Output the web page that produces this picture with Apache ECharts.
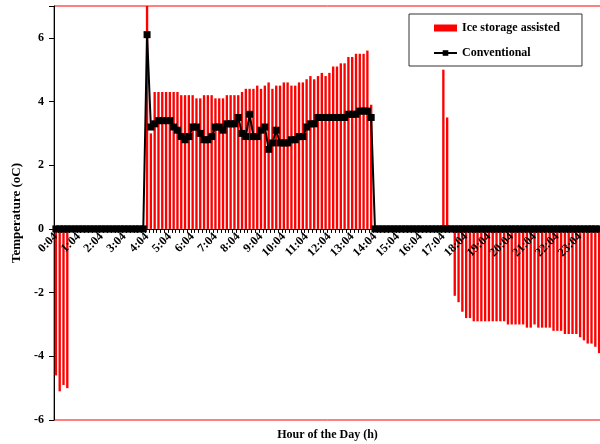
<!DOCTYPE html>
<html>
<head>
<meta charset="utf-8">
<script src="https://cdn.jsdelivr.net/npm/echarts@6/dist/echarts.min.js"></script>
<style>
  html, body { margin: 0; padding: 0; background: #ffffff; }
  #chart { width: 600px; height: 444px; }
</style>
</head>
<body>
<div id="chart"></div>
<script>
// Hour labels shown on the axis; each hour holds six 10-minute readings
var hourLabels = ['0:04','1:04','2:04','3:04','4:04','5:04','6:04','7:04','8:04','9:04','10:04','11:04',
                  '12:04','13:04','14:04','15:04','16:04','17:04','18:04','19:04','20:04','21:04','22:04','23:04'];
var minuteSteps = ['04','14','24','34','44','54'];

// Temperature (oC) with the ice storage system, one value per 10 minutes
var iceStorage = [
  -4.6, -5.1, -4.9, -5.0, 0, 0,
  0, 0, 0, 0, 0, 0,
  0, 0, 0, 0, 0, 0,
  0, 0, 0, 0, 0, 0,
  7.5, 3.0, 4.3, 4.3, 4.3, 4.3,
  4.3, 4.3, 4.3, 4.2, 4.2, 4.2,
  4.2, 4.1, 4.1, 4.2, 4.2, 4.2,
  4.1, 4.1, 4.1, 4.2, 4.2, 4.2,
  4.2, 4.3, 4.4, 4.4, 4.4, 4.5,
  4.4, 4.5, 4.6, 4.4, 4.5, 4.5,
  4.6, 4.6, 4.5, 4.5, 4.6, 4.6,
  4.7, 4.8, 4.7, 4.8, 4.9, 4.8,
  4.9, 5.1, 5.1, 5.2, 5.2, 5.4,
  5.4, 5.5, 5.5, 5.5, 5.6, 3.9,
  0, 0, 0, 0, 0, 0,
  0, 0, 0, 0, 0, 0,
  0, 0, 0, 0, 0, 0,
  5.0, 3.5, 0, -2.1, -2.3, -2.6,
  -2.8, -2.8, -2.9, -2.9, -2.9, -2.9,
  -2.9, -2.9, -2.9, -2.9, -2.9, -3.0,
  -3.0, -3.0, -3.0, -3.0, -3.1, -3.1,
  -3.0, -3.1, -3.1, -3.1, -3.1, -3.2,
  -3.2, -3.2, -3.3, -3.3, -3.3, -3.3,
  -3.4, -3.5, -3.6, -3.6, -3.7, -3.9
];

// Temperature (oC) with the conventional system
var conventional = [
  0, 0, 0, 0, 0, 0,
  0, 0, 0, 0, 0, 0,
  0, 0, 0, 0, 0, 0,
  0, 0, 0, 0, 0, 0,
  6.1, 3.2, 3.3, 3.4, 3.4, 3.4,
  3.4, 3.2, 3.1, 2.9, 2.8, 2.9,
  3.2, 3.2, 3.0, 2.8, 2.8, 2.9,
  3.2, 3.2, 3.1, 3.3, 3.3, 3.3,
  3.5, 3.0, 2.9, 3.6, 2.9, 2.9,
  3.1, 3.2, 2.5, 2.7, 3.1, 2.7,
  2.7, 2.7, 2.8, 2.8, 2.9, 2.9,
  3.2, 3.3, 3.3, 3.5, 3.5, 3.5,
  3.5, 3.5, 3.5, 3.5, 3.5, 3.6,
  3.6, 3.6, 3.7, 3.7, 3.7, 3.5,
  0, 0, 0, 0, 0, 0,
  0, 0, 0, 0, 0, 0,
  0, 0, 0, 0, 0, 0,
  0, 0, 0, 0, 0, 0,
  0, 0, 0, 0, 0, 0,
  0, 0, 0, 0, 0, 0,
  0, 0, 0, 0, 0, 0,
  0, 0, 0, 0, 0, 0,
  0, 0, 0, 0, 0, 0,
  0, 0, 0, 0, 0, 0
];

var yTicks = { min: -6, max: 7, step: 2 };

// Build the 10-minute time slots for the category axis
var timeSlots = [];
hourLabels.forEach(function (h) {
  var hour = h.split(':')[0];
  minuteSteps.forEach(function (m) { timeSlots.push(hour + ':' + m); });
});

var serif = '"Liberation Serif", "Times New Roman", serif';

// Plot area in pixels; the time axis is lifted from the bottom edge to the 0 oC level
var plot = { left: 54, top: 6, right: -1, bottom: 24, height: 444 - 6 - 24 };
var zeroLift = plot.height * (0 - yTicks.min) / (yTicks.max - yTicks.min);

var chart = echarts.init(document.getElementById('chart'), null, { renderer: 'canvas' });
chart.setOption({
  animation: false,
  backgroundColor: '#ffffff',
  grid: {
    left: plot.left, top: plot.top, right: plot.right, bottom: plot.bottom,
    containLabel: false,
    outerBoundsMode: 'none',
    show: true, borderColor: '#ff0000', borderWidth: 1, backgroundColor: 'transparent'
  },
  legend: {
    orient: 'vertical',
    left: 409, top: 14,
    backgroundColor: '#ffffff',
    borderColor: '#333333', borderWidth: 1, borderRadius: 0,
    padding: [8, 22, 7, 24],
    itemGap: 13,
    itemWidth: 23, itemHeight: 7,
    textStyle: { fontFamily: serif, fontWeight: 'bold', fontSize: 12, color: '#000000' },
    data: [
      { name: 'Ice storage assisted', icon: 'rect' },
      { name: 'Conventional' }
    ]
  },
  xAxis: {
    type: 'category',
    data: timeSlots,
    boundaryGap: true,
    position: 'bottom',
    offset: -zeroLift,
    zlevel: 1,
    name: 'Hour of the Day (h)',
    nameLocation: 'middle',
    nameGap: 200,
    nameTextStyle: { fontFamily: serif, fontWeight: 'bold', fontSize: 12, color: '#000000' },
    axisLine: { onZero: false, lineStyle: { color: '#000000', width: 1 } },
    axisTick: { show: true, interval: 0, length: 4, lineStyle: { color: '#000000' } },
    axisLabel: {
      interval: 5, rotate: 45, margin: 6,
      fontFamily: serif, fontWeight: 'bold', fontSize: 12, color: '#000000'
    },
    splitLine: { show: false }
  },
  yAxis: {
    type: 'value',
    min: yTicks.min, max: yTicks.max, interval: yTicks.step,
    name: 'Temperature (oC)',
    nameLocation: 'middle',
    nameGap: 31,
    nameRotate: 90,
    nameTextStyle: { fontFamily: serif, fontWeight: 'bold', fontSize: 13, color: '#000000' },
    axisLine: { show: true, lineStyle: { color: '#000000', width: 1 } },
    axisTick: { show: true, length: 5, lineStyle: { color: '#000000' } },
    axisLabel: {
      margin: 10,
      fontFamily: serif, fontWeight: 'bold', fontSize: 12, color: '#000000',
      formatter: function (v) { return v > 6 ? '' : String(v); }
    },
    splitLine: { show: false }
  },
  series: [
    {
      name: 'Ice storage assisted',
      type: 'bar',
      data: iceStorage,
      barWidth: '62%',
      clip: true,
      itemStyle: { color: '#ff0000' },
      z: 2
    },
    {
      name: 'Conventional',
      type: 'line',
      data: conventional,
      symbol: 'rect',
      symbolSize: 7,
      showAllSymbol: true,
      itemStyle: { color: '#000000' },
      lineStyle: { color: '#000000', width: 2 },
      z: 3
    }
  ]
});
</script>
</body>
</html>
